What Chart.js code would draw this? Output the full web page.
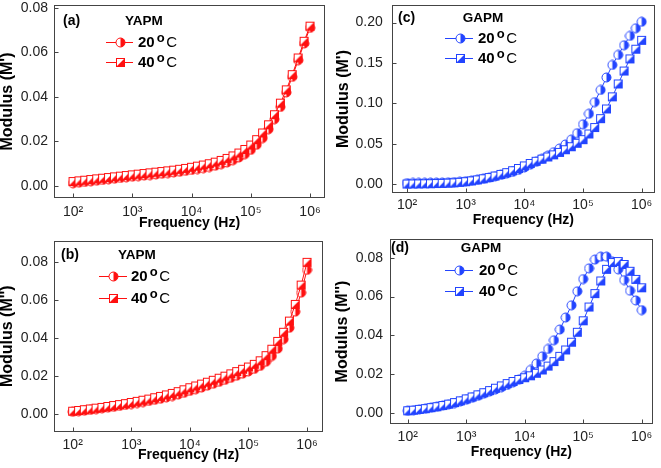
<!DOCTYPE html>
<html>
<head>
<meta charset="utf-8">
<title>Modulus vs Frequency</title>
<script src="https://cdn.jsdelivr.net/npm/chart.js@4.4.0/dist/chart.umd.min.js"></script>
<style>
    html, body { margin: 0; padding: 0; background: #fff; }
    #wrap { position: relative; width: 661px; height: 468px; }
    .panel { position: absolute; }
</style>
</head>
<body>
<div id="wrap">
    <div class="panel" style="left:0;top:0"><canvas id="chartA" width="330" height="234"></canvas></div>
    <div class="panel" style="left:330px;top:0"><canvas id="chartC" width="331" height="234"></canvas></div>
    <div class="panel" style="left:0;top:234px"><canvas id="chartB" width="330" height="234"></canvas></div>
    <div class="panel" style="left:330px;top:234px"><canvas id="chartD" width="331" height="234"></canvas></div>
</div>
<script>
// Frecuencias (Hz), 10 puntos por década
const freq = [
    100, 126, 158, 200, 251, 316, 398, 501, 631, 794,
    1000, 1259, 1585, 1995, 2512, 3162, 3981, 5012, 6310, 7943,
    10000, 12589, 15849, 19953, 25119, 31623, 39811, 50119, 63096, 79433,
    100000, 125893, 158489, 199526, 251189, 316228, 398107, 501187, 630957, 794328,
    1000000
];

const xTickValues = [100, 1000, 10000, 100000, 1000000];
const xTickLabels = ['10²', '10³', '10⁴', '10⁵', '10⁶'];
const yTicksSmall = [0, 0.02, 0.04, 0.06, 0.08];
const yTicksLarge = [0, 0.05, 0.10, 0.15, 0.20];
const seriesNames = ['20', '40'];

// (a) YAPM  M'
const yapmReal20 = [
    0.0012, 0.0015, 0.0018, 0.0021, 0.0024, 0.0027, 0.0030, 0.0033, 0.0036, 0.0039,
    0.0042, 0.0044, 0.0047, 0.0049, 0.0052, 0.0055, 0.0058, 0.0061, 0.0064, 0.0068,
    0.0072, 0.0076, 0.0080, 0.0085, 0.0091, 0.0098, 0.0106, 0.0116, 0.0128, 0.0143,
    0.0162, 0.0185, 0.0215, 0.0255, 0.0300, 0.0355, 0.0420, 0.0490, 0.0565, 0.0640,
    0.0710
];
const yapmReal40 = [
    0.0020, 0.0023, 0.0026, 0.0029, 0.0032, 0.0035, 0.0038, 0.0041, 0.0044, 0.0047,
    0.0050, 0.0053, 0.0056, 0.0059, 0.0062, 0.0065, 0.0068, 0.0071, 0.0075, 0.0079,
    0.0084, 0.0089, 0.0094, 0.0100, 0.0107, 0.0115, 0.0124, 0.0135, 0.0148, 0.0164,
    0.0184, 0.0208, 0.0238, 0.0275, 0.0320, 0.0372, 0.0432, 0.0500, 0.0575, 0.0650,
    0.0718
];

// (b) YAPM  M''
const yapmImag20 = [
    0.0012, 0.0015, 0.0018, 0.0022, 0.0026, 0.0030, 0.0034, 0.0038, 0.0043, 0.0048,
    0.0053, 0.0058, 0.0063, 0.0069, 0.0075, 0.0081, 0.0088, 0.0095, 0.0103, 0.0112,
    0.0122, 0.0131, 0.0140, 0.0150, 0.0160, 0.0170, 0.0180, 0.0191, 0.0202, 0.0213,
    0.0225, 0.0238, 0.0254, 0.0276, 0.0306, 0.0345, 0.0395, 0.0455, 0.0540, 0.0640,
    0.0760
];
const yapmImag40 = [
    0.0015, 0.0019, 0.0023, 0.0027, 0.0031, 0.0035, 0.0040, 0.0045, 0.0050, 0.0055,
    0.0061, 0.0067, 0.0073, 0.0079, 0.0086, 0.0093, 0.0101, 0.0109, 0.0118, 0.0128,
    0.0139, 0.0148, 0.0158, 0.0168, 0.0178, 0.0189, 0.0200, 0.0212, 0.0224, 0.0236,
    0.0248, 0.0262, 0.0281, 0.0308, 0.0342, 0.0383, 0.0431, 0.0490, 0.0578, 0.0680,
    0.0800
];

// (c) GAPM  M'
const gapmReal20 = [
    0.0012, 0.0013, 0.0014, 0.0015, 0.0016, 0.0017, 0.0019, 0.0021, 0.0024, 0.0029,
    0.0035, 0.0043, 0.0053, 0.0065, 0.0079, 0.0095, 0.0112, 0.0130, 0.0150, 0.0175,
    0.0205, 0.0240, 0.0275, 0.0312, 0.0352, 0.0395, 0.0440, 0.0490, 0.0550, 0.0630,
    0.0740, 0.0870, 0.1015, 0.1165, 0.1320, 0.1475, 0.1600, 0.1720, 0.1835, 0.1930,
    0.2010
];
const gapmReal40 = [
    0.0000, 0.0001, 0.0002, 0.0003, 0.0004, 0.0006, 0.0008, 0.0011, 0.0015, 0.0021,
    0.0029, 0.0039, 0.0051, 0.0065, 0.0081, 0.0099, 0.0119, 0.0141, 0.0165, 0.0193,
    0.0225, 0.0255, 0.0282, 0.0308, 0.0335, 0.0362, 0.0392, 0.0425, 0.0462, 0.0505,
    0.0550, 0.0620, 0.0700, 0.0810, 0.0930, 0.1080, 0.1240, 0.1400, 0.1550, 0.1670,
    0.1780
];

// (d) GAPM  M''
const gapmImag20 = [
    0.0012, 0.0015, 0.0019, 0.0023, 0.0028, 0.0033, 0.0039, 0.0045, 0.0052, 0.0060,
    0.0069, 0.0079, 0.0089, 0.0100, 0.0111, 0.0122, 0.0133, 0.0145, 0.0158, 0.0172,
    0.0192, 0.0222, 0.0255, 0.0292, 0.0330, 0.0375, 0.0430, 0.0492, 0.0555, 0.0627,
    0.0690, 0.0745, 0.0790, 0.0805, 0.0805, 0.0780, 0.0740, 0.0685, 0.0630, 0.0580,
    0.0530
];
const gapmImag40 = [
    0.0012, 0.0015, 0.0019, 0.0023, 0.0028, 0.0033, 0.0039, 0.0046, 0.0054, 0.0063,
    0.0073, 0.0083, 0.0094, 0.0105, 0.0116, 0.0128, 0.0140, 0.0152, 0.0163, 0.0173,
    0.0182, 0.0192, 0.0205, 0.0222, 0.0242, 0.0265, 0.0292, 0.0325, 0.0365, 0.0416,
    0.0475, 0.0546, 0.0615, 0.0680, 0.0740, 0.0775, 0.0780, 0.0765, 0.0730, 0.0688,
    0.0645
];

const RED = '#ff1010';
const BLUE = '#2244ff';
const FONT = 'Liberation Sans, Arial, Helvetica, sans-serif';

// Marcadores: círculo medio relleno y cuadrado con diagonal
function crearMarcador(forma, color) {
    const c = document.createElement('canvas');
    c.width = 11; c.height = 11;
    const g = c.getContext('2d');
    g.lineWidth = 1;
    g.fillStyle = '#fff';
    g.strokeStyle = color;
    if (forma === 'circle') {
        g.beginPath(); g.arc(5.5, 5.5, 4.5, 0, Math.PI * 2); g.fill();
        g.fillStyle = color;
        g.beginPath(); g.arc(5.5, 5.5, 4.5, -Math.PI / 2, Math.PI / 2); g.closePath(); g.fill();
        g.beginPath(); g.arc(5.5, 5.5, 4.5, 0, Math.PI * 2); g.stroke();
    } else {
        g.fillRect(1, 1, 9, 9);
        g.fillStyle = color;
        g.beginPath(); g.moveTo(10, 1); g.lineTo(10, 10); g.lineTo(1, 10); g.closePath(); g.fill();
        g.strokeRect(1.5, 1.5, 8, 8);
    }
    return c;
}

// Marco, ticks internos, etiquetas y leyenda
const decoracionPanel = {
    id: 'decoracionPanel',
    afterDraw(chart, args, opts) {
        const ctx = chart.ctx;
        const a = chart.chartArea;
        const xs = chart.scales.x, ys = chart.scales.y;
        const L = Math.round(a.left) + 0.5, R = Math.round(a.right) - 0.5;
        const T = Math.round(a.top) + 0.5, B = Math.round(a.bottom) - 0.5;
        ctx.save();
        ctx.strokeStyle = '#444';
        ctx.lineWidth = 1;
        ctx.strokeRect(L, T, R - L, B - T);
        ctx.beginPath();
        xs.ticks.forEach(t => {
            const px = Math.round(xs.getPixelForValue(t.value)) + 0.5;
            ctx.moveTo(px, B); ctx.lineTo(px, B - 4);
        });
        ys.ticks.forEach(t => {
            const py = Math.round(ys.getPixelForValue(t.value)) + 0.5;
            ctx.moveTo(L, py); ctx.lineTo(L + 4, py);
        });
        ctx.stroke();

        ctx.fillStyle = '#000';
        ctx.textBaseline = 'middle';
        ctx.textAlign = 'left';
        ctx.font = 'bold 14px ' + FONT;
        ctx.fillText(opts.letra, opts.letraX, opts.letraY);
        ctx.font = 'bold 13.5px ' + FONT;
        ctx.fillText(opts.muestra, opts.muestraX, opts.letraY);

        opts.filas.forEach((fy, i) => {
            const ds = chart.data.datasets[i];
            ctx.strokeStyle = ds.borderColor;
            ctx.beginPath();
            ctx.moveTo(opts.lineaX1, fy + 0.5); ctx.lineTo(opts.lineaX2, fy + 0.5);
            ctx.stroke();
            const m = ds.pointStyle;
            ctx.drawImage(m, Math.round(opts.marcaX - m.width / 2), Math.round(fy - m.height / 2 + 0.5));
            let x = opts.textoX;
            ctx.fillStyle = '#000';
            ctx.textBaseline = 'middle';
            ctx.font = 'bold 15px ' + FONT;
            ctx.fillText(seriesNames[i], x, fy + 1);
            x += ctx.measureText(seriesNames[i]).width + 2;
            ctx.textBaseline = 'alphabetic';
            ctx.font = 'bold 13px ' + FONT;
            ctx.fillText('o', x, fy);
            x += ctx.measureText('o').width + 1.5;
            ctx.textBaseline = 'middle';
            ctx.font = '15px ' + FONT;
            ctx.fillText('C', x, fy + 1);
        });
        ctx.restore();
    }
};

const paneles = [
    {
        id: 'chartA', w: 330, s20: yapmReal20, s40: yapmReal40, color: RED,
        yTitulo: "Modulus (M')", yTicks: yTicksSmall,
        xLog: [1.679, 6.253], yRango: [-0.0054, 0.0813],
        area: { left: 54, right: 325, top: 4, bottom: 198 },
        xTickPad: 7, yTickPad: 6, yTitlePad: 0, xTitlePad: 4,
        deco: { letra: '(a)', letraX: 63, letraY: 21, muestra: 'YAPM', muestraX: 125,
                lineaX1: 106, lineaX2: 133, marcaX: 120, textoX: 138, filas: [42, 62] }
    },
    {
        id: 'chartC', w: 331, s20: gapmReal20, s40: gapmReal40, color: BLUE,
        yTitulo: "Modulus (M')", yTicks: yTicksLarge,
        xLog: [1.739, 6.227], yRango: [-0.0111, 0.2218],
        area: { left: 61.7, right: 325, top: 4, bottom: 193 },
        xTickPad: 5, yTickPad: 9, yTitlePad: 6, xTitlePad: 7,
        deco: { letra: '(c)', letraX: 68, letraY: 18, muestra: 'GAPM', muestraX: 132.7,
                lineaX1: 115, lineaX2: 143, marcaX: 130, textoX: 148, filas: [38, 58] }
    },
    {
        id: 'chartB', w: 330, s20: yapmImag20, s40: yapmImag40, color: RED,
        yTitulo: "Modulus (M'')", yTicks: yTicksSmall,
        xLog: [1.681, 6.273], yRango: [-0.0093, 0.0914],
        area: { left: 54, right: 323, top: 6.7, bottom: 197.7 },
        xTickPad: 6, yTickPad: 6, yTitlePad: 0, xTitlePad: 5.5,
        deco: { letra: '(b)', letraX: 61, letraY: 21, muestra: 'YAPM', muestraX: 118,
                lineaX1: 99, lineaX2: 127, marcaX: 113, textoX: 131, filas: [42, 64] }
    },
    {
        id: 'chartD', w: 331, s20: gapmImag20, s40: gapmImag40, color: BLUE,
        yTitulo: "Modulus (M'')", yTicks: yTicksSmall,
        xLog: [1.697, 6.188], yRango: [-0.0056, 0.0896],
        area: { left: 60, right: 322.7, top: 1.7, bottom: 190 },
        xTickPad: 6, yTickPad: 7, yTitlePad: 5, xTitlePad: 8.5,
        deco: { letra: '(d)', letraX: 61, letraY: 14, muestra: 'GAPM', muestraX: 130.7,
                lineaX1: 115, lineaX2: 143, marcaX: 129, textoX: 149, filas: [36, 57] }
    }
];

function crearPanel(p) {
    const H = 234;
    const puntos = vals => freq.map((f, i) => ({ x: f, y: vals[i] }));
    return new Chart(document.getElementById(p.id), {
        type: 'line',
        data: {
            datasets: [
                {
                    label: '20 °C', data: puntos(p.s20), order: 1,
                    borderColor: p.color, borderWidth: 1, backgroundColor: p.color,
                    pointStyle: crearMarcador('circle', p.color), pointRadius: 4, tension: 0
                },
                {
                    label: '40 °C', data: puntos(p.s40), order: 0,
                    borderColor: p.color, borderWidth: 1, backgroundColor: p.color,
                    pointStyle: crearMarcador('square', p.color), pointRadius: 4, tension: 0
                }
            ]
        },
        options: {
            responsive: false,
            animation: false,
            events: [],
            layout: { padding: { left: 0, right: p.w - p.area.right, top: p.area.top, bottom: 0 } },
            plugins: {
                legend: { display: false },
                tooltip: { enabled: false },
                decoracionPanel: p.deco
            },
            scales: {
                x: {
                    type: 'logarithmic',
                    min: Math.pow(10, p.xLog[0]),
                    max: Math.pow(10, p.xLog[1]),
                    grid: { display: false, drawTicks: false },
                    border: { display: false },
                    afterBuildTicks: s => { s.ticks = xTickValues.map(v => ({ value: v })); },
                    afterFit: s => {
                        s.height = H - p.area.bottom;
                        s.paddingLeft = 0; s.paddingRight = 0;
                    },
                    ticks: {
                        autoSkip: false, maxRotation: 0, padding: p.xTickPad,
                        color: '#222', font: { family: FONT, size: 14, lineHeight: 1 },
                        callback: v => xTickLabels[xTickValues.indexOf(v)] || ''
                    },
                    title: {
                        display: true, text: 'Frequency (Hz)', color: '#000',
                        font: { family: FONT, size: 14, weight: 'bold', lineHeight: 1 },
                        padding: { top: 0, bottom: p.xTitlePad }
                    }
                },
                y: {
                    type: 'linear',
                    min: p.yRango[0],
                    max: p.yRango[1],
                    grid: { display: false, drawTicks: false },
                    border: { display: false },
                    afterBuildTicks: s => { s.ticks = p.yTicks.map(v => ({ value: v })); },
                    afterFit: s => {
                        s.width = p.area.left;
                        s.paddingTop = 0; s.paddingBottom = 0;
                    },
                    ticks: {
                        padding: p.yTickPad,
                        color: '#222', font: { family: FONT, size: 14, lineHeight: 1 },
                        callback: v => Number(v).toFixed(2)
                    },
                    title: {
                        display: true, text: p.yTitulo, color: '#000',
                        font: { family: FONT, size: 16, weight: 'bold', lineHeight: 1 },
                        padding: { top: p.yTitlePad, bottom: 0 }
                    }
                }
            }
        },
        plugins: [decoracionPanel]
    });
}

paneles.forEach(crearPanel);
</script>
</body>
</html>
